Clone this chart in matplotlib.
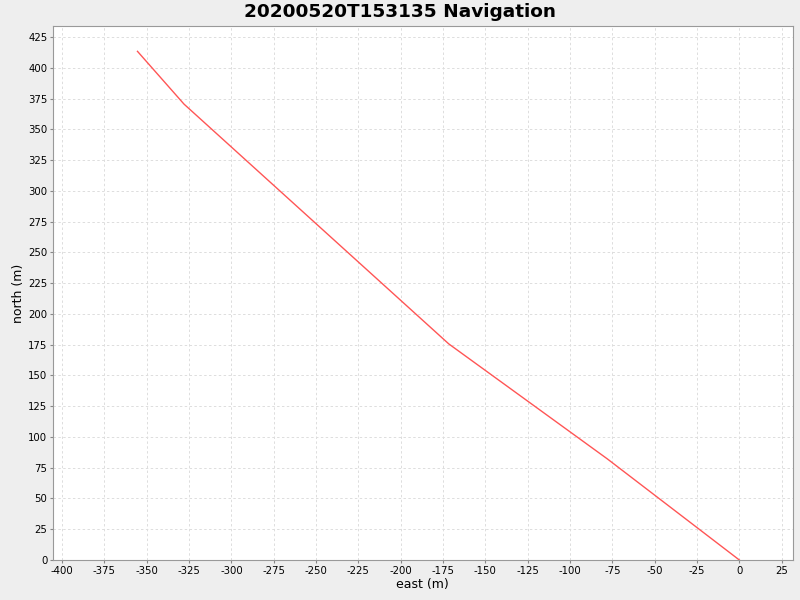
import matplotlib
matplotlib.use('Agg')
import matplotlib.pyplot as plt

plt.rcParams['axes.unicode_minus'] = False

# track points (east, north) in metres
east = [0, -78, -171.6, -328, -355.5]
north = [0, 82.2, 175.6, 370.5, 413.4]

x_ticks = list(range(-400, 26, 25))
y_ticks = list(range(0, 426, 25))

fig = plt.figure(figsize=(8, 6), dpi=100, facecolor='#EEEEEE')
ax = fig.add_axes([53 / 800, 40 / 600, 739.5 / 800, 534 / 600])
ax.set_facecolor('white')

ax.plot(east, north, color='#FF5555', linewidth=1)

ax.set_xlim(-405.4, 31.4)
ax.set_ylim(0, 434)
ax.set_xticks(x_ticks)
ax.set_yticks(y_ticks)
ax.tick_params(labelsize=7.3, length=2, color='#888888', pad=2)
ax.grid(True, color='#DDDDDD', linestyle=(0, (2.5, 2.5)), linewidth=0.7)
ax.set_axisbelow(True)
for s in ax.spines.values():
    s.set_color('#999999')

ax.set_xlabel('east (m)', fontsize=9, labelpad=2)
ax.set_ylabel('north (m)', fontsize=9, labelpad=2)
fig.text(0.5, 0.98, '20200520T153135 Navigation', ha='center', va='center',
         fontsize=13.3, fontweight='bold')

plt.savefig('out.png', dpi=100, facecolor=fig.get_facecolor())
